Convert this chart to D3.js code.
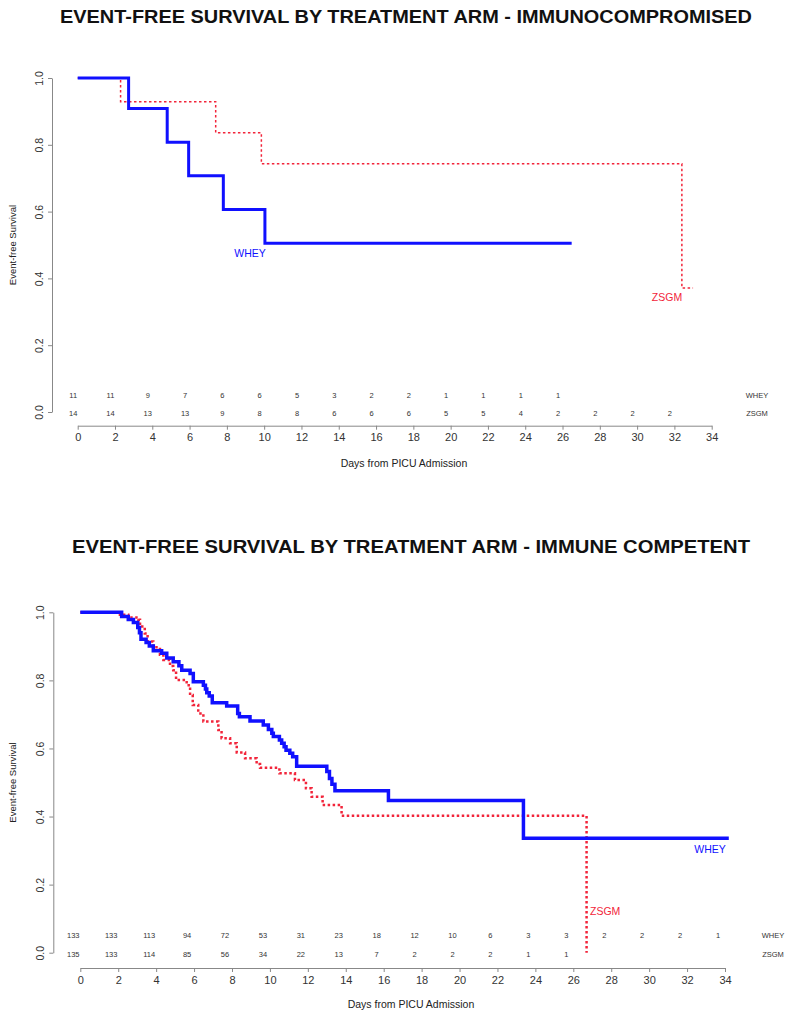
<!DOCTYPE html>
<html>
<head>
<meta charset="utf-8">
<script src="https://cdn.jsdelivr.net/npm/d3@7"></script>
<style>
  body { margin: 0; background: #fff; }
  svg { display: block; font-family: "Liberation Sans", Arial, Helvetica, sans-serif; }
</style>
</head>
<body>
<svg id="chart" width="795" height="1019"></svg>
<script>
// tick labels shared by both panels
const dayTicks = [0, 2, 4, 6, 8, 10, 12, 14, 16, 18, 20, 22, 24, 26, 28, 30, 32, 34];
const survTicks = [0, 0.2, 0.4, 0.6, 0.8, 1.0];
const armNames = ["WHEY", "ZSGM"];

// immunocompromised panel
const icWheyTime = [0, 2.73, 4.80, 5.95, 7.81, 10.04, 26.49];
const icWheySurv = [1, 0.909, 0.808, 0.707, 0.606, 0.505, 0.505];
const icZsgmTime = [0, 2.30, 7.40, 9.85, 32.4, 33.0];
const icZsgmSurv = [1, 0.929, 0.836, 0.743, 0.371, 0.371];
const icWheyRisk = [11, 11, 9, 7, 6, 6, 5, 3, 2, 2, 1, 1, 1, 1];
const icZsgmRisk = [14, 14, 13, 13, 9, 8, 8, 6, 6, 6, 5, 5, 4, 2, 2, 2, 2];

// immune competent panel
const cpWheyTime = [0, 2.18, 2.53, 2.80, 3.03, 3.12, 3.20, 3.47, 3.64, 3.85, 4.29, 4.56, 4.90, 5.20, 5.35,
  5.79, 5.96, 6.49, 6.60, 6.67, 6.80, 6.96, 7.72, 8.30, 8.39, 8.95, 9.65, 9.92, 10.10, 10.18, 10.50,
  10.62, 10.75, 10.85, 11.05, 11.20, 11.41, 13.00, 13.14, 13.27, 13.43, 16.25, 23.37, 34.2];
const cpWheySurv = [1, 0.988, 0.979, 0.970, 0.955, 0.940, 0.921, 0.911, 0.901, 0.887, 0.880, 0.866, 0.855, 0.843, 0.830,
  0.820, 0.796, 0.786, 0.775, 0.764, 0.754, 0.734, 0.725, 0.703, 0.693, 0.681, 0.669, 0.656, 0.645, 0.635, 0.625,
  0.615, 0.605, 0.595, 0.586, 0.576, 0.548, 0.532, 0.512, 0.495, 0.476, 0.447, 0.336, 0.336];
const cpZsgmTime = [0, 2.09, 2.53, 3.06, 3.15, 3.40, 3.55, 3.85, 4.20, 4.38, 4.73, 4.90, 5.05, 5.61, 5.79,
  5.93, 6.22, 6.49, 7.28, 7.45, 7.90, 8.25, 8.69, 9.30, 9.48, 10.50, 11.32, 11.90, 12.20, 12.78, 13.78, 26.7, 26.7];
const cpZsgmSurv = [1, 0.993, 0.985, 0.978, 0.958, 0.938, 0.914, 0.897, 0.875, 0.860, 0.842, 0.830, 0.801, 0.786, 0.757,
  0.728, 0.703, 0.679, 0.654, 0.630, 0.615, 0.588, 0.571, 0.554, 0.543, 0.527, 0.507, 0.483, 0.458, 0.434, 0.402, 0, 0];
const cpWheyRisk = [133, 133, 113, 94, 72, 53, 31, 23, 18, 12, 10, 6, 3, 3, 2, 2, 2, 1];
const cpZsgmRisk = [135, 133, 114, 85, 56, 34, 22, 13, 7, 2, 2, 2, 1, 1];

const BLUE = "#1010ff";
const RED = "#f2243a";

const svg = d3.select("#chart");

function drawPanel(p) {
  const g = svg.append("g");
  const x = d3.scaleLinear().domain([0, 34]).range([p.x0, p.x1]);
  const y = d3.scaleLinear().domain([0, 1]).range([p.yBottom, p.yTop]);

  // title (reference glyphs are a bit wider than Liberation, so stretch to its width)
  g.append("text").attr("x", p.titleX).attr("y", p.titleY)
    .attr("text-anchor", "middle").attr("font-weight", "bold").attr("font-size", 19)
    .attr("textLength", p.titleLen).attr("lengthAdjust", "spacingAndGlyphs")
    .attr("fill", "#111").text(p.title);

  // y axis
  const yAx = g.append("g").attr("transform", `translate(${p.yAxisX},0)`)
    .call(d3.axisLeft(y).tickValues(survTicks).tickFormat(d3.format(".1f")).tickSize(4).tickSizeOuter(0));
  yAx.select(".domain").attr("stroke", "#888");
  yAx.selectAll(".tick line").attr("stroke", "#888");
  yAx.selectAll(".tick text")
    .attr("font-size", 10.5).attr("fill", "#333")
    .attr("x", 0).attr("y", 0).attr("dy", 0)
    .attr("text-anchor", "middle")
    .attr("transform", "translate(-9,0) rotate(-90)");

  g.append("text")
    .attr("transform", `translate(16,${(p.yTop + p.yBottom) / 2}) rotate(-90)`)
    .attr("text-anchor", "middle").attr("font-size", 9.5).attr("fill", "#222")
    .text("Event-free Survival");

  // x axis
  const xAx = g.append("g").attr("transform", `translate(0,${p.xAxisY})`)
    .call(d3.axisBottom(x).tickValues(dayTicks).tickSize(4).tickSizeOuter(0).tickPadding(4));
  xAx.select(".domain").attr("stroke", "#888");
  xAx.selectAll(".tick line").attr("stroke", "#888");
  xAx.selectAll(".tick text").attr("font-size", 11).attr("fill", "#333");

  g.append("text").attr("x", p.xTitleX).attr("y", p.xTitleY)
    .attr("text-anchor", "middle").attr("font-size", 10.5).attr("fill", "#222")
    .text("Days from PICU Admission");

  // survival curves
  const line = d3.line().x(d => x(d[0])).y(d => y(d[1])).curve(d3.curveStepAfter);
  g.append("path").datum(d3.zip(p.zsgmTime, p.zsgmSurv))
    .attr("d", line).attr("fill", "none").attr("stroke", RED)
    .attr("stroke-width", p.redWidth).attr("stroke-dasharray", p.redDash);
  g.append("path").datum(d3.zip(p.wheyTime, p.wheySurv))
    .attr("d", line).attr("fill", "none").attr("stroke", BLUE)
    .attr("stroke-width", p.blueWidth);

  // curve labels
  g.append("text").attr("x", p.wheyLabel[0]).attr("y", p.wheyLabel[1])
    .attr("font-size", 10.5).attr("fill", BLUE).attr("text-anchor", "middle").text(armNames[0]);
  g.append("text").attr("x", p.zsgmLabel[0]).attr("y", p.zsgmLabel[1])
    .attr("font-size", 10.5).attr("fill", RED).attr("text-anchor", p.zsgmAnchor).text(armNames[1]);

  // numbers at risk
  const rows = [p.wheyRisk, p.zsgmRisk];
  rows.forEach((r, i) => {
    g.append("g").selectAll("text").data(r).enter().append("text")
      .attr("x", (d, k) => x(dayTicks[k]) + p.riskShift)
      .attr("y", p.riskY[i])
      .attr("text-anchor", "middle").attr("font-size", 7.5).attr("fill", "#333")
      .text(d => d);
    g.append("text").attr("x", p.riskLabelX).attr("y", p.riskY[i])
      .attr("text-anchor", "middle").attr("font-size", 7.5).attr("fill", "#333")
      .text(armNames[i]);
  });
}

drawPanel({
  title: "EVENT-FREE SURVIVAL BY TREATMENT ARM - IMMUNOCOMPROMISED",
  titleX: 406, titleY: 23, titleLen: 692,
  x0: 77.7, x1: 711.7, yTop: 78, yBottom: 412,
  yAxisX: 52, xAxisY: 425.7, xTitleX: 404, xTitleY: 467,
  wheyTime: icWheyTime, wheySurv: icWheySurv, zsgmTime: icZsgmTime, zsgmSurv: icZsgmSurv,
  wheyRisk: icWheyRisk, zsgmRisk: icZsgmRisk,
  riskY: [397.5, 416], riskShift: -4.5, riskLabelX: 757,
  blueWidth: 3, redWidth: 1.5, redDash: "2.5,2.5",
  wheyLabel: [250, 257], zsgmLabel: [667, 301], zsgmAnchor: "middle"
});

drawPanel({
  title: "EVENT-FREE SURVIVAL BY TREATMENT ARM - IMMUNE COMPETENT",
  titleX: 411, titleY: 553, titleLen: 678,
  x0: 80.3, x1: 725, yTop: 612.3, yBottom: 952.7,
  yAxisX: 53.3, xAxisY: 968, xTitleX: 411, xTitleY: 1008,
  wheyTime: cpWheyTime, wheySurv: cpWheySurv, zsgmTime: cpZsgmTime, zsgmSurv: cpZsgmSurv,
  wheyRisk: cpWheyRisk, zsgmRisk: cpZsgmRisk,
  riskY: [938, 957], riskShift: -7, riskLabelX: 773,
  blueWidth: 3.5, redWidth: 2.5, redDash: "2.5,2.5",
  wheyLabel: [710, 853], zsgmLabel: [590, 914.5], zsgmAnchor: "start"
});
</script>
</body>
</html>
